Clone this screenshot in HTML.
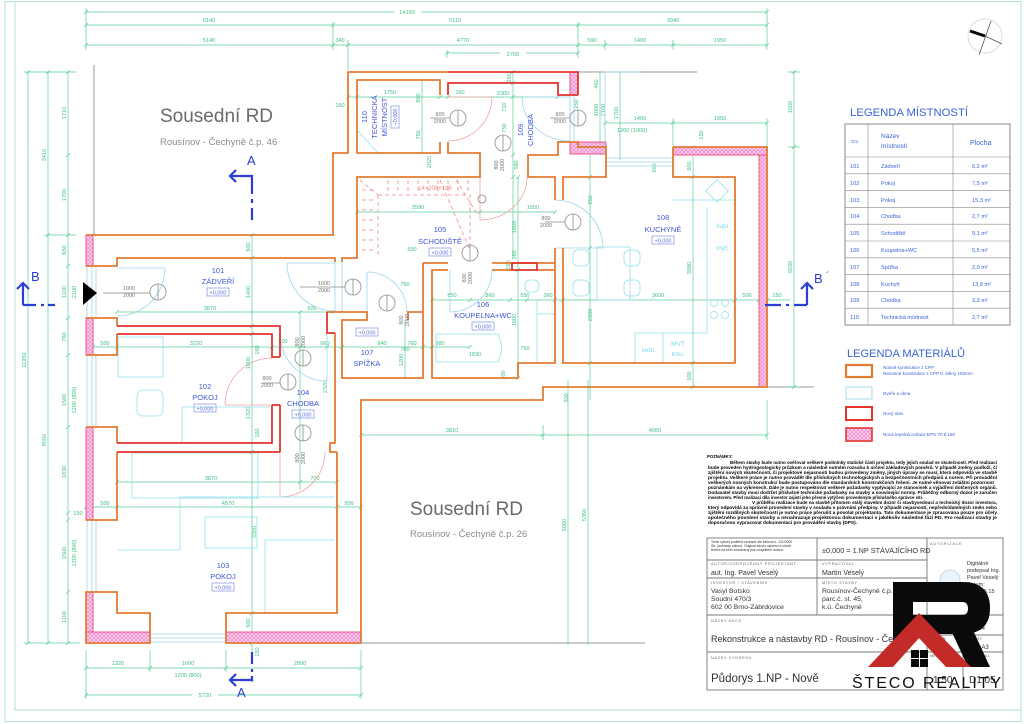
<!DOCTYPE html>
<html><head><meta charset="utf-8">
<style>
html,body{margin:0;padding:0;background:#fff;}
svg{display:block;}
text{font-family:"Liberation Sans",sans-serif;}
</style></head><body>
<svg width="1024" height="724" viewBox="0 0 1024 724" xmlns="http://www.w3.org/2000/svg">
<defs>
<pattern id="hatch" width="4" height="4" patternUnits="userSpaceOnUse">
<rect width="4" height="4" fill="#fbd0ec"/>
<path d="M0,4 L4,0 M0,0 L4,4" stroke="#ee78c8" stroke-width="0.6"/>
</pattern>
</defs>
<rect width="1024" height="724" fill="#fff"/>
<!-- sheet border -->
<rect x="5" y="1.5" width="1016" height="720" fill="none" stroke="#b3e2d0" stroke-width="1"/>
<path d="M15,1 V710 H1021" fill="none" stroke="#b3e2d0" stroke-width="1"/>

<!-- neighbour gray lines -->
<g stroke="#9a9a9a" stroke-width="1" fill="none">
<path d="M94,65 V235"/>
<path d="M578,72 H697"/>
<path d="M361,643 H645"/>
<path d="M767,387 H814"/>
</g>

<!-- Neighbour texts -->
<text x="160" y="122" font-size="19" fill="#6a6a6a">Sousední RD</text>
<text x="160" y="145" font-size="9.5" fill="#8a8a8a">Rousínov - Čechyně č.p. 46</text>
<text x="410" y="515" font-size="19" fill="#6a6a6a">Sousední RD</text>
<text x="410" y="537" font-size="9.5" fill="#8a8a8a">Rousínov - Čechyně č.p. 26</text>

<!-- DIMENSIONS -->
<g fill="none" stroke="#5acf98" stroke-width="0.7">
<path d="M86,12 H767 M86,25 H767 M86,45 H767 M447,53 H578 M605,123 H767 M348,97 H558 M357,212 H555 M432,300 H790 M117,312 H333 M93,347 H470 M117,482 H337 M86,507 H361 M361,435 H767 M86,668 H361 M86,695 H361"/>
<path d="M28,72 V643 M48,72 V643 M68,72 V643 M252,235 V660 M513,72 V258 M422,80 V153 M600,72 V155 M620,72 V160 M794,72 V387 M590,155 V400 M693,147 V387 M568,380 V645 M588,380 V645 M518,177 V378 M300,312 V490 M405,320 V378"/>
<path d="M86,8 V50 M333,22 V50 M348,40 V70 M578,22 V58 M605,40 V50 M673,40 V50 M767,8 V50 M447,50 V58 M24,72 H76 M24,643 H80 M44,235 H76 M86,650 V699 M150,650 V672 M226,650 V672 M361,650 V699 M605,118 V150 M673,118 V150 M767,118 V150 M788,72 H800 M788,147 H800 M788,387 H800 M543,425 V440 M767,400 V440"/>
<path d="M84,14L88,10 M765,14L769,10 M84,27L88,23 M331,27L335,23 M576,27L580,23 M765,27L769,23 M84,47L88,43 M331,47L335,43 M346,47L350,43 M576,47L580,43 M603,47L607,43 M671,47L675,43 M765,47L769,43 M445,55L449,51 M576,55L580,51 M603,125L607,121 M671,125L675,121 M765,125L769,121 M346,99L350,95 M355,99L359,95 M438,99L442,95 M446,99L450,95 M556,99L560,95 M355,214L359,210 M478,214L482,210 M553,214L557,210 M430,302L434,298 M468,302L472,298 M508,302L512,298 M525,302L529,298 M553,302L557,298 M561,302L565,298 M733,302L737,298 M757,302L761,298 M765,302L769,298 M115,314L119,310 M298,314L302,310 M331,314L335,310 M91,349L95,345 M115,349L119,345 M270,349L274,345 M298,349L302,345 M325,349L329,345 M340,349L344,345 M421,349L425,345 M430,349L434,345 M468,349L472,345 M115,484L119,480 M298,484L302,480 M335,484L339,480 M84,509L88,505 M115,509L119,505 M335,509L339,505 M359,509L363,505 M359,437L363,433 M541,437L545,433 M765,437L769,433 M84,670L88,666 M148,670L152,666 M224,670L228,666 M359,670L363,666 M84,697L88,693 M359,697L363,693"/>
<path d="M26,74L30,70 M26,645L30,641 M46,74L50,70 M46,237L50,233 M46,645L50,641 M66,74L70,70 M66,157L70,153 M66,237L70,233 M66,268L70,264 M66,320L70,316 M66,357L70,353 M66,429L70,425 M66,515L70,511 M66,522L70,518 M66,594L70,590 M66,645L70,641 M250,237L254,233 M250,260L254,256 M250,328L254,324 M250,336L254,332 M250,454L254,450 M250,615L254,611 M250,645L254,641 M511,74L515,70 M511,85L515,81 M511,99L515,95 M511,157L515,153 M511,179L515,175 M792,74L796,70 M792,149L796,145 M792,389L796,385 M691,149L695,145 M691,179L695,175 M691,365L695,361 M691,389L695,385 M588,179L592,175 M588,250L592,246 M588,365L592,361 M516,179L520,175 M516,272L520,268 M516,380L520,376"/>
</g>
<g fill="#3fbf84" font-size="5.6">
<rect x="394" y="7" width="27" height="8" fill="#fff"/>
<text x="407" y="14" text-anchor="middle">14190</text>
<text x="209" y="22" text-anchor="middle">5140</text>
<text x="455" y="22" text-anchor="middle">5110</text>
<text x="673" y="22" text-anchor="middle">3940</text>
<text x="209" y="42" text-anchor="middle">5140</text>
<text x="340" y="42" text-anchor="middle">340</text>
<text x="463" y="42" text-anchor="middle">4770</text>
<text x="592" y="42" text-anchor="middle">590</text>
<text x="640" y="42" text-anchor="middle">1400</text>
<text x="720" y="42" text-anchor="middle">1950</text>
<rect x="500" y="50" width="26" height="7" fill="#fff"/>
<text x="513" y="56" text-anchor="middle">2700</text>
<text x="640" y="120" text-anchor="middle">1400</text>
<text x="720" y="120" text-anchor="middle">1950</text>
<text x="632" y="132" text-anchor="middle">1200 (1000)</text>
<text x="390" y="94" text-anchor="middle">1750</text>
<text x="460" y="94" text-anchor="middle">160</text>
<text x="503" y="95" text-anchor="middle">2300</text>
<text x="340" y="107" text-anchor="middle">160</text>
<text x="418" y="209" text-anchor="middle">2590</text>
<text x="533" y="209" text-anchor="middle">1550</text>
<text x="412" y="251" text-anchor="middle">500</text>
<text x="405" y="286" text-anchor="middle">760</text>
<text x="452" y="297" text-anchor="middle">850</text>
<text x="490" y="297" text-anchor="middle">860</text>
<text x="525" y="297" text-anchor="middle">550</text>
<text x="548" y="297" text-anchor="middle">360</text>
<text x="658" y="297" text-anchor="middle">3600</text>
<text x="747" y="297" text-anchor="middle">500</text>
<text x="777" y="297" text-anchor="middle">150</text>
<text x="210" y="310" text-anchor="middle">3870</text>
<text x="312" y="310" text-anchor="middle">500</text>
<text x="105" y="345" text-anchor="middle">500</text>
<text x="196" y="345" text-anchor="middle">3220</text>
<text x="283" y="343" text-anchor="middle">500</text>
<text x="325" y="345" text-anchor="middle">660</text>
<text x="382" y="345" text-anchor="middle">940</text>
<text x="412" y="345" text-anchor="middle">760</text>
<text x="440" y="345" text-anchor="middle">980</text>
<text x="475" y="356" text-anchor="middle">1830</text>
<text x="525" y="350" text-anchor="middle">750</text>
<text x="405" y="351" text-anchor="middle">760</text>
<text x="211" y="480" text-anchor="middle">3870</text>
<text x="315" y="480" text-anchor="middle">700</text>
<text x="105" y="505" text-anchor="middle">500</text>
<text x="228" y="505" text-anchor="middle">4570</text>
<text x="349" y="505" text-anchor="middle">500</text>
<text x="78" y="515" text-anchor="middle">150</text>
<text x="452" y="432" text-anchor="middle">3810</text>
<text x="655" y="432" text-anchor="middle">4660</text>
<text x="118" y="665" text-anchor="middle">1320</text>
<text x="188" y="665" text-anchor="middle">1600</text>
<text x="300" y="665" text-anchor="middle">2800</text>
<text x="188" y="677" text-anchor="middle">1200  (800)</text>
<rect x="192" y="691" width="26" height="8" fill="#fff"/>
<text x="205" y="697" text-anchor="middle">5720</text>
<g text-anchor="middle">
<text transform="translate(26,360) rotate(-90)">11950</text>
<text transform="translate(46,155) rotate(-90)">3410</text>
<text transform="translate(46,440) rotate(-90)">8550</text>
<text transform="translate(66,113) rotate(-90)">1710</text>
<text transform="translate(66,195) rotate(-90)">1700</text>
<text transform="translate(66,250) rotate(-90)">650</text>
<text transform="translate(66,292) rotate(-90)">1100</text>
<text transform="translate(76,292) rotate(-90)">2100</text>
<text transform="translate(66,337) rotate(-90)">760</text>
<text transform="translate(66,400) rotate(-90)">1500</text>
<text transform="translate(76,400) rotate(-90)">1200 (800)</text>
<text transform="translate(66,472) rotate(-90)">1830</text>
<text transform="translate(66,553) rotate(-90)">1500</text>
<text transform="translate(76,553) rotate(-90)">1200 (800)</text>
<text transform="translate(66,617) rotate(-90)">1100</text>
<text transform="translate(250,247) rotate(-90)">500</text>
<text transform="translate(250,292) rotate(-90)">1400</text>
<text transform="translate(259,350) rotate(-90)">160</text>
<text transform="translate(250,363) rotate(-90)">1000</text>
<text transform="translate(250,413) rotate(-90)">1320</text>
<text transform="translate(259,433) rotate(-90)">160</text>
<text transform="translate(256,532) rotate(-90)">3350</text>
<text transform="translate(250,623) rotate(-90)">500</text>
<text transform="translate(259,652) rotate(-90)">150</text>
<text transform="translate(511,78) rotate(-90)">250</text>
<text transform="translate(506,107) rotate(-90)">710</text>
<text transform="translate(506,128) rotate(-90)">750</text>
<text transform="translate(518,165) rotate(-90)">580</text>
<text transform="translate(420,98) rotate(-90)">800</text>
<text transform="translate(420,135) rotate(-90)">750</text>
<text transform="translate(598,84) rotate(-90)">460</text>
<text transform="translate(598,110) rotate(-90)">1000</text>
<text transform="translate(605,110) rotate(-90)">2100</text>
<text transform="translate(618,113) rotate(-90)">1700</text>
<text transform="translate(578,104) rotate(-90)">250</text>
<text transform="translate(792,107) rotate(-90)">1560</text>
<text transform="translate(792,267) rotate(-90)">5030</text>
<text transform="translate(703,135) rotate(-90)">150</text>
<text transform="translate(691,166) rotate(-90)">500</text>
<text transform="translate(691,268) rotate(-90)">3880</text>
<text transform="translate(691,376) rotate(-90)">500</text>
<text transform="translate(592,200) rotate(-90)">950</text>
<text transform="translate(592,315) rotate(-90)">2930</text>
<text transform="translate(656,168) rotate(-90)">500</text>
<text transform="translate(516,227) rotate(-90)">1800</text>
<text transform="translate(516,255) rotate(-90)">160</text>
<text transform="translate(516,320) rotate(-90)">1600</text>
<text transform="translate(566,525) rotate(-90)">5060</text>
<text transform="translate(586,515) rotate(-90)">5360</text>
<text transform="translate(568,398) rotate(-90)">300</text>
<text transform="translate(327,387) rotate(-90)">2320</text>
<text transform="translate(403,360) rotate(-90)">1200</text>
<text transform="translate(431,162) rotate(-90)">2025</text>
<text transform="translate(510,265) rotate(-90)">160</text>
<text transform="translate(505,375) rotate(-90)">300</text>
</g>
</g>

<!-- PINK INSULATION -->
<g fill="url(#hatch)" stroke="#e8356e" stroke-width="0.8">
<rect x="86" y="235" width="7" height="31"/>
<rect x="86" y="318" width="7" height="37"/>
<rect x="86" y="427" width="7" height="93"/>
<rect x="86" y="592" width="7" height="51"/>
<rect x="86" y="632" width="64" height="11"/>
<rect x="226" y="632" width="135" height="11"/>
<rect x="759" y="147" width="8" height="240"/>
<rect x="673" y="147" width="94" height="8"/>
<rect x="570" y="72" width="8" height="23"/>
<rect x="570" y="142" width="36" height="12"/>
</g>

<!-- WINDOWS / DOORS (light blue) -->
<g fill="none" stroke="#9fd3ec" stroke-width="0.8">
<path d="M87,266 V318 M92,266 V318 M96,266 V318 M87,355 V427 M92,355 V427 M96,355 V427 M87,520 V592 M92,520 V592 M96,520 V592"/>
<path d="M150,634 H226 M150,638 H226 M150,642 H226"/>
<path d="M606,158 H673 M606,162 H673 M606,166 H673"/>
<path d="M570,95 V142 M574,95 V142"/>
<path d="M335,262 V312 M342,262 V312"/>
<path d="M165,268 A48,48 0 0 1 117,316 M117,268 H165"/>
<path d="M287,263 A48,48 0 0 0 335,311 M287,263 H335"/>
<path d="M522,97 A48,44 0 0 0 570,141 M522,97 H570"/>
<path d="M555,200 A48,48 0 0 1 603,248 M555,248 H603"/>
<path d="M492,270 A42,42 0 0 1 450,312 M450,270 V312"/>
<path d="M367,272 A40,40 0 0 1 407,312 M367,272 V312"/>
<path d="M280,334 A47,47 0 0 0 327,381 M327,334 V381"/>
<path d="M605,72 H640 M605,72 V155"/>
</g>
<g fill="none" stroke="#f2a3a3" stroke-width="0.8">
<path d="M492,97 A44,44 0 0 1 448,141 M448,97 H492"/>
<path d="M527,177 A47,43 0 0 1 480,220 M480,177 V220"/>
<path d="M272,358 A47,47 0 0 0 225,405 M225,405 H272"/>
<path d="M325,452 A45,45 0 0 1 280,497 M280,452 V497"/>
</g>

<!-- STAIRS (red dashed) -->
<g fill="none" stroke="#f08a8a" stroke-width="0.8" stroke-dasharray="4,3">
<path d="M378,195 H470 V250 M378,195 V258"/>
<path d="M362,190 H376 M362,200 H376 M362,210 H376 M362,220 H376 M362,230 H376 M362,240 H376 M362,250 H376"/>
<path d="M388,180 V193 M398,180 V193 M408,180 V193 M418,180 V193 M428,180 V193 M438,180 V193 M448,180 V193 M458,180 V193 M468,180 V193"/>
<path d="M360,180 L378,195 M440,180 L470,250 M456,180 L478,215"/>
</g>
<text x="435" y="190" font-size="6" fill="#ef8a8a" text-anchor="middle">14×208×186</text>

<!-- FURNITURE (cyan) -->
<g fill="none" stroke="#92e2ee" stroke-width="0.8">
<path d="M707,207 V333 M673,200 H735 M635,333 H707 M663,333 V363 M635,333 V363"/>
<rect x="709" y="183" width="16" height="16" transform="rotate(45 717 191)"/>
<circle cx="714" cy="303" r="3.5"/><circle cx="725" cy="303" r="3.5"/><circle cx="714" cy="315" r="3.5"/><circle cx="725" cy="315" r="3.5"/>
<rect x="597" y="247" width="33" height="53"/>
<rect x="573" y="250" width="16" height="16" rx="5"/><rect x="573" y="280" width="16" height="16" rx="5"/>
<rect x="624" y="250" width="16" height="16" rx="5"/><rect x="624" y="280" width="16" height="16" rx="5"/>
<path d="M436,334 H498 Q505,348 498,362 H436 Z"/>
<rect x="525" y="280" width="14" height="12" rx="5"/>
<path d="M537,300 V362 M537,314 H555"/>
<rect x="118" y="337" width="45" height="40"/>
<rect x="137" y="390" width="26" height="26" rx="6"/>
<path d="M182,443 V407 H270"/>
<rect x="132" y="453" width="126" height="45"/>
<path d="M180,550 V497 H335"/>
<rect x="205" y="517" width="52" height="31"/>
<path d="M265,613 V540 H335"/>
<path d="M118,550 H180"/>
<path d="M357,130 L378,153"/>
</g>
<g fill="#7dd6ea" font-size="6.5" text-anchor="middle">
<text x="723" y="228">šupl.</text>
<text x="723" y="250">myč.</text>
<text x="649" y="352">ledn.</text>
<text x="678" y="346">MVT</text>
<text x="678" y="356">trou.</text>
</g>

<!-- WALLS -->
<g fill="none" stroke="#e27b32" stroke-width="1.8" stroke-linejoin="miter">
<path d="M86,235 H333 V153 H348 V72 H448"/>
<path d="M440,95 V80 H357 V153 H440 V142"/>
<path d="M448,142 V153 H480 V177 H357 V258 H342 V262 M335,262 V258 H117 V266 H86"/>
<path d="M563,200 V177 H606 V147 H578 V142 H558 V155 H528 V177 H555 V200"/>
<path d="M673,147 H767 V387 H543 V400 H361 V643 H226 V613 H337 V452"/>
<path d="M673,147 V177 H735 V363 H563 V248"/>
<path d="M555,248 V363 H518 V378 H432 V270 H448"/>
<path d="M423,263 H448 M492,263 H555 M537,270 H555 M492,270 H512"/>
<path d="M327,312 H367 V320 H342 V378 H423 V263"/>
<path d="M408,320 V312 H423"/>
<path d="M335,333 V443 H330 V452 H337"/>
<path d="M150,643 H86 V592 H117 V613 H150 Z"/>
<path d="M117,334 V355 H86 M86,427 H117 V443 M117,452 V520 H86 M86,318 H117 V326"/>
</g>
<g fill="none" stroke="#e3342e" stroke-width="1.8">
<path d="M448,72 H578 V95"/>
<path d="M578,95 H558 V83 H448 V95"/>
<path d="M512,263 H537 V270 H512 Z"/>
<path d="M117,326 H280 V357 M117,334 H272 V357 H280"/>
<path d="M280,405 V452 M272,405 H280 M272,405 V443 H117 M117,452 H280"/>
<path d="M327,312 V333 H335"/>
</g>

<!-- DOOR SYMBOLS -->
<g fill="none" stroke="#8a8a8a" stroke-width="0.8">
<path d="M103,293 H150 M300,287 H345 M430,118 H450 M550,118 H570 M545,222 H565 M262,383 H280"/>
<circle cx="158" cy="292" r="8"/><circle cx="353" cy="287" r="8"/><circle cx="387" cy="303" r="8"/>
<circle cx="303" cy="358" r="8"/><circle cx="288" cy="382" r="8"/><circle cx="303" cy="433" r="8"/>
<circle cx="458" cy="118" r="8"/><circle cx="578" cy="118" r="8"/><circle cx="503" cy="143" r="8"/>
<circle cx="573" cy="222" r="8"/><circle cx="470" cy="253" r="8"/><circle cx="482" cy="199" r="4"/>
<path d="M158,284 V300 M353,279 V295 M387,295 V311 M303,350 V366 M288,374 V390 M303,425 V441 M458,110 V126 M578,110 V126 M503,135 V151 M573,214 V230 M470,245 V261"/>
</g>
<g fill="#777" font-size="5.5" text-anchor="middle">
<text x="129" y="290">1000</text><text x="129" y="297">2000</text>
<text x="324" y="285">1000</text><text x="324" y="292">2000</text>
<text x="440" y="116">900</text><text x="440" y="123">2000</text>
<text x="560" y="116">900</text><text x="560" y="123">2000</text>
<text x="546" y="220">800</text><text x="546" y="227">2000</text>
<text x="267" y="380">800</text><text x="267" y="387">2000</text>
<text transform="translate(403,320) rotate(-90)">800</text><text transform="translate(409,320) rotate(-90)">2000</text>
<text transform="translate(299,342) rotate(-90)">800</text><text transform="translate(305,342) rotate(-90)">2000</text>
<text transform="translate(299,458) rotate(-90)">800</text><text transform="translate(305,458) rotate(-90)">2000</text>
<text transform="translate(498,165) rotate(-90)">800</text><text transform="translate(504,165) rotate(-90)">2000</text>
<text transform="translate(466,278) rotate(-90)">800</text><text transform="translate(472,278) rotate(-90)">2000</text>
</g>

<!-- ROOM LABELS -->
<g fill="#4257d6" font-size="7.5" text-anchor="middle">
<text x="218" y="273">101</text><text x="218" y="284">ZÁDVEŘÍ</text>
<text x="205" y="389">102</text><text x="205" y="400">POKOJ</text>
<text x="223" y="568">103</text><text x="223" y="579">POKOJ</text>
<text x="303" y="395">104</text><text x="303" y="406">CHODBA</text>
<text x="440" y="232">105</text><text x="440" y="244">SCHODIŠTĚ</text>
<text x="483" y="307">106</text><text x="483" y="318">KOUPELNA+WC</text>
<text x="367" y="355">107</text><text x="367" y="366">SPÍŽKA</text>
<text x="663" y="220">108</text><text x="663" y="232">KUCHYNĚ</text>
<text transform="translate(367,117) rotate(-90)">110</text>
<text transform="translate(377,117) rotate(-90)">TECHNICKÁ</text>
<text transform="translate(387,117) rotate(-90)">MÍSTNOST</text>
<text transform="translate(523,130) rotate(-90)">109</text>
<text transform="translate(533,130) rotate(-90)">CHODBA</text>
</g>
<g fill="none" stroke="#6a7ee0" stroke-width="0.6">
<rect x="207" y="288" width="22" height="8"/><rect x="194" y="404" width="22" height="8"/>
<rect x="212" y="583" width="22" height="8"/><rect x="292" y="410" width="22" height="8"/>
<rect x="429" y="248" width="22" height="8"/><rect x="472" y="322" width="22" height="8"/>
<rect x="356" y="328" width="22" height="8"/><rect x="652" y="236" width="22" height="8"/>
<rect x="391" y="106" width="8" height="22"/>
</g>
<g fill="#5a6de0" font-size="5.5" text-anchor="middle">
<text x="218" y="294.5">+0,000</text><text x="205" y="410.5">+0,000</text>
<text x="223" y="589.5">+0,000</text><text x="303" y="416.5">+0,000</text>
<text x="440" y="254.5">+0,000</text><text x="483" y="328.5">+0,000</text>
<text x="367" y="334.5">+0,000</text><text x="663" y="242.5">+0,000</text>
<text transform="translate(397,117) rotate(-90)">+0,000</text>
</g>

<!-- entrance marker -->
<polygon points="83,282 97,293 83,305" fill="#000"/>

<!-- SECTION MARKS -->
<g fill="none" stroke="#2b3fd6" stroke-width="2.2">
<path d="M252,220 V208 M252,203 V199 M252,194 V176 H231"/>
<path d="M236,170 L230,176 L236,182"/>
<path d="M252,652 V664 M252,669 V672 M252,676 V680 H231"/>
<path d="M236,674 L230,680 L236,686"/>
<path d="M23,305 V284 M23,305 H36 M41,305 H44 M48,305 H55"/>
<path d="M17,289 L23,283 L29,289"/>
<path d="M807,305 V284 M807,305 H794 M789,305 H786 M781,305 H765"/>
<path d="M801,289 L807,283 L813,289"/>
</g>
<g fill="#2b3fd6" font-size="13">
<text x="247" y="165">A</text>
<text x="237" y="697">A</text><text x="251" y="688" font-size="10">´</text>
<text x="31" y="281">B</text>
<text x="814" y="283">B</text><text x="826" y="279" font-size="10">´</text>
</g>

<!-- COMPASS -->
<circle cx="985" cy="36" r="17" fill="none" stroke="#dcdcdc" stroke-width="1"/>
<path d="M991,21 L979,55 M985,36 L1002,44" stroke="#555" stroke-width="0.8"/>
<path d="M970,31 L985,36" stroke="#000" stroke-width="3"/>

<!-- LEGENDA MISTNOSTI -->
<text x="850" y="116" font-size="11" fill="#3a63d8" textLength="118" lengthAdjust="spacingAndGlyphs">LEGENDA MÍSTNOSTÍ</text>
<g stroke="#888" fill="none">
<rect x="845" y="124" width="165" height="201" stroke-width="1"/>
<path stroke-width="0.6" d="M868,124 V325 M953,124 V325 M845,157 H1010 M845,173.8 H1010 M845,190.6 H1010 M845,207.4 H1010 M845,224.2 H1010 M845,241 H1010 M845,257.8 H1010 M845,274.6 H1010 M845,291.4 H1010 M845,308.2 H1010"/>
</g>
<g fill="#3a63d8" font-size="5.6">
<text x="851" y="143" font-size="4.5">Čm.</text>
<text x="881" y="138" font-size="6.5">Název</text>
<text x="881" y="148" font-size="6.5">místnosti</text>
<text x="970" y="145" font-size="7">Plocha</text>
<text x="850" y="168">101</text><text x="881" y="168">Zádveří</text><text x="972" y="168">6,2 m²</text>
<text x="850" y="185">102</text><text x="881" y="185">Pokoj</text><text x="972" y="185">7,5 m²</text>
<text x="850" y="202">103</text><text x="881" y="202">Pokoj</text><text x="972" y="202">15,3 m²</text>
<text x="850" y="218">104</text><text x="881" y="218">Chodba</text><text x="972" y="218">2,7 m²</text>
<text x="850" y="235">105</text><text x="881" y="235">Schodiště</text><text x="972" y="235">9,1 m²</text>
<text x="850" y="252">106</text><text x="881" y="252">Koupelna+WC</text><text x="972" y="252">5,5 m²</text>
<text x="850" y="269">107</text><text x="881" y="269">Spížka</text><text x="972" y="269">2,0 m²</text>
<text x="850" y="286">108</text><text x="881" y="286">Kuchyň</text><text x="972" y="286">13,9 m²</text>
<text x="850" y="302">109</text><text x="881" y="302">Chodba</text><text x="972" y="302">3,3 m²</text>
<text x="850" y="319">110</text><text x="881" y="319">Technická místnost</text><text x="972" y="319">2,7 m²</text>
</g>

<!-- LEGENDA MATERIALU -->
<text x="847" y="357" font-size="11" fill="#3a63d8" textLength="118" lengthAdjust="spacingAndGlyphs">LEGENDA MATERIÁLŮ</text>
<rect x="846" y="365" width="26" height="12" fill="#fff" stroke="#e27b32" stroke-width="2.2"/>
<rect x="846" y="387" width="26" height="12" fill="#fff" stroke="#a8d8ee" stroke-width="1"/>
<rect x="846" y="407" width="26" height="13" fill="#fff" stroke="#e3342e" stroke-width="2"/>
<rect x="846" y="428" width="26" height="13" fill="url(#hatch)" stroke="#e3342e" stroke-width="1.6"/>
<g fill="#3a63d8" font-size="4.6">
<text x="883" y="369">Nosné konstrukce z CPP</text>
<text x="883" y="375">Nenosné konstrukce z CPP tl. stěny 150mm</text>
<text x="883" y="395">Dveře a okna</text>
<text x="883" y="415">Nový stav</text>
<text x="883" y="436">Nová tepelná izolace EPS 70 tl.150</text>
</g>

<!-- NOTES -->
<g fill="#000" font-size="4.3" font-weight="bold">
<text x="707" y="458">POZNÁMKY:</text>
<text x="730" y="464" textLength="267" lengthAdjust="spacingAndGlyphs">Během stavby bude nutno ověřovat veškeré podmínky statické části projektu, tedy jejich soulad se skutečností. Před realizací</text>
<text x="708" y="469" textLength="289" lengthAdjust="spacingAndGlyphs">bude proveden hydrogeologický průzkum a následně nutném rozsahu k určení základových poměrů. V případě změny podloží, či</text>
<text x="708" y="474" textLength="289" lengthAdjust="spacingAndGlyphs">zjištění nových skutečností, či projektové nejasnosti budou provedeny změny, jiných úpravy se musí, která odpovídá ve stavbě</text>
<text x="708" y="479" textLength="289" lengthAdjust="spacingAndGlyphs">projektu. Veškeré práce je nutno provádět dle příslušných technologických a bezpečnostních předpisů a norem. Při provádění</text>
<text x="708" y="484" textLength="286" lengthAdjust="spacingAndGlyphs">veškerých nosných konstrukcí bude postupováno dle standardních konstrukčních řešení. Je nutné věnovat zvláštní pozornost</text>
<text x="708" y="489" textLength="289" lengthAdjust="spacingAndGlyphs">poznámkám na výkresech. Dále je nutno respektovat veškeré požadavky vyplývající ze stanovisek a vyjádření dotčených orgánů.</text>
<text x="708" y="494" textLength="289" lengthAdjust="spacingAndGlyphs">Dodavatel stavby musí dodržet příslušné technické požadavky na stavby a související normy. Průběžný odborný dozor je zaručen</text>
<text x="708" y="499" textLength="215" lengthAdjust="spacingAndGlyphs">investorem. Před realizací díla investor zajistí jeho přesné vytýčení provedeným příslušného správce sítí.</text>
<text x="752" y="504" textLength="245" lengthAdjust="spacingAndGlyphs">V průběhu realizace bude na stavbě přítomen stálý stavební dozor či stavbyvedoucí a technický dozor investora,</text>
<text x="708" y="509" textLength="289" lengthAdjust="spacingAndGlyphs">který odpovídá za správné provedení stavby v souladu s právními předpisy. V případě nejasností, nepředvídatelných změn nebo</text>
<text x="708" y="514" textLength="289" lengthAdjust="spacingAndGlyphs">zjištění rozdílných skutečností je nutno práce přerušit a povolat projektanta. Tato dokumentace je zpracována pouze pro účely</text>
<text x="708" y="519" textLength="289" lengthAdjust="spacingAndGlyphs">společného povolení stavby a nenahrazuje projektovou dokumentaci v jakékoliv následné fázi PD. Pro realizaci stavby je</text>
<text x="708" y="524" textLength="149" lengthAdjust="spacingAndGlyphs">doporučeno vypracovat dokumentaci pro provádění stavby (DPS).</text>
</g>

<!-- TITLE BLOCK -->
<g fill="none" stroke="#777" stroke-width="0.9">
<rect x="707" y="538" width="296" height="152"/>
<path d="M707,560 H927 M707,578 H927 M707,615 H1003 M927,635 H1003 M707,652 H1003 M817,538 V615 M927,538 V690 M963,615 V690"/>
</g>
<circle cx="950" cy="580" r="10" fill="#eaf3fb" stroke="#c4dcef" stroke-width="1"/>
<g fill="#333">
<text x="711" y="543" font-size="3.4">Tento výkres podléhá ochraně dle zákona č. 121/2000</text>
<text x="711" y="547" font-size="3.4">Sb. (autorský zákon). Originál tohoto výkresu a všech</text>
<text x="711" y="551" font-size="3.4">řešení na něm zobrazený jsou majetkem autora.</text>
<text x="822" y="553" font-size="7.3">±0,000 = 1.NP STÁVAJÍCÍHO RD</text>
<text x="930" y="545" font-size="3.8" letter-spacing="0.8" fill="#666">AUTORIZACE</text>
<text x="711" y="565" font-size="3.8" letter-spacing="0.7" fill="#666">AUTOR/ZODPOVĚDNÝ PROJEKTANT</text>
<text x="711" y="575" font-size="7">aut. Ing. Pavel Veselý</text>
<text x="822" y="565" font-size="3.8" letter-spacing="0.7" fill="#666">VYPRACOVAL</text>
<text x="822" y="575" font-size="7">Martin Veselý</text>
<text x="711" y="584" font-size="3.8" letter-spacing="0.7" fill="#666">INVESTOR / STAVEBNÍK</text>
<text x="711" y="593" font-size="6.8">Vasyl Botsko</text>
<text x="711" y="601" font-size="6.8">Soudní 470/3</text>
<text x="711" y="609" font-size="6.8">602 00 Brno-Zábrdovice</text>
<text x="822" y="584" font-size="3.8" letter-spacing="0.7" fill="#666">MÍSTO STAVBY</text>
<text x="822" y="593" font-size="6.8">Rousínov-Čechyně č.p. 5</text>
<text x="822" y="601" font-size="6.8">parc.č. st. 45,</text>
<text x="822" y="609" font-size="6.8">k.ú. Čechyně</text>
<text x="967" y="565" font-size="5.5">Digitálně</text>
<text x="967" y="572" font-size="5.5">podepsal Ing.</text>
<text x="967" y="579" font-size="5.5">Pavel Veselý</text>
<text x="967" y="586" font-size="5.5">Datum:</text>
<text x="967" y="593" font-size="5.5">2024.05.15</text>
<text x="967" y="600" font-size="5.5">11:24:36</text>
<text x="967" y="607" font-size="5.5">+02'00'</text>
<text x="711" y="622" font-size="3.8" letter-spacing="0.7" fill="#666">NÁZEV AKCE</text>
<text x="711" y="642" font-size="9">Rekonstrukce a nástavby RD - Rousínov - Čechyně</text>
<text x="711" y="659" font-size="3.8" letter-spacing="0.7" fill="#666">NÁZEV VÝKRESU</text>
<text x="711" y="682" font-size="11.5">Půdorys 1.NP - Nově</text>
<text x="930" y="620" font-size="3.8" fill="#666">DATUM</text>
<text x="931" y="630" font-size="6">05/2024</text>
<text x="966" y="620" font-size="3.8" fill="#666">Č. ZAKÁZKY</text>
<text x="975" y="630" font-size="6">944</text>
<text x="930" y="640" font-size="3.8" fill="#666">STUPEŇ</text>
<text x="934" y="649" font-size="6">DSP</text>
<text x="966" y="640" font-size="3.8" fill="#666">FORMÁT</text>
<text x="975" y="649" font-size="6">3xA3</text>
<text x="930" y="657" font-size="3.8" fill="#666">MĚŘÍTKO</text>
<text x="966" y="657" font-size="3.8" fill="#666">Č. VÝKRESU</text>
<text x="933" y="683" font-size="10">1:50</text>
<text x="969" y="683" font-size="10">D1.05</text>
</g>

<!-- LOGO -->
<path d="M893,582 H962 Q990,582 990,608 Q990,634 962,634 H900 V582 Z M913,602 H962 Q968,602 968,608.5 Q968,615 962,615 H913 Z" fill="#0a0a0a" fill-rule="evenodd"/>
<polygon points="893,582 913,582 913,622 893,642" fill="#0a0a0a"/>
<polygon points="950,628 972,628 990,667 968,667" fill="#0a0a0a"/>
<path d="M868,667 L919,613 L971,667 Z M893,667 L946,667 L919,638 Z" fill="#c22b28" fill-rule="evenodd"/>
<g fill="#0a0a0a">
<rect x="911" y="650" width="8" height="8"/><rect x="920" y="650" width="8" height="8"/>
<rect x="911" y="659" width="8" height="8"/><rect x="920" y="659" width="8" height="8"/>
</g>
<text x="852" y="688" font-family="'Liberation Serif',serif" font-size="16" fill="#111" textLength="149" lengthAdjust="spacing">ŠTECO REALITY</text>
</svg>
</body></html>
